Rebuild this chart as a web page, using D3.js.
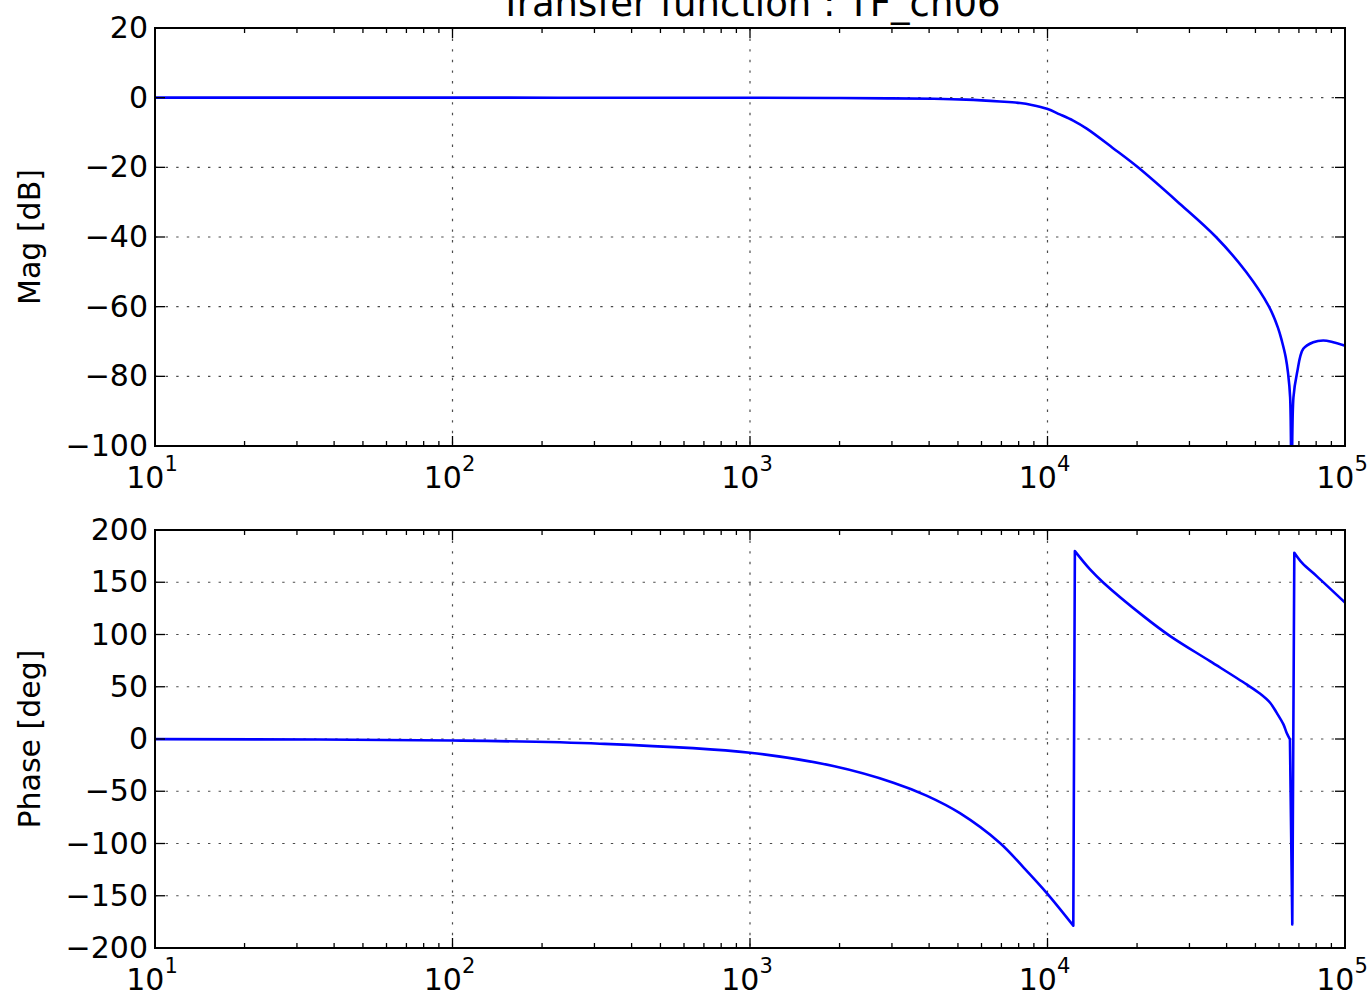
<!DOCTYPE html>
<html>
<head>
<meta charset="utf-8">
<script src="https://cdn.jsdelivr.net/npm/d3@7"></script>
<style>
  html, body { margin: 0; padding: 0; background: #fff; }
  svg { display: block; }
  text { font-family: "DejaVu Sans", sans-serif; fill: #000; }
</style>
</head>
<body>
<svg id="chart" width="1372" height="996"></svg>
<script>
// ---------- data ----------
const titleText = "Transfer function : TF_ch06";
const magLabel = "Mag [dB]";
const phaseLabel = "Phase [deg]";

const xDomain = [10, 100000];
const xMajorTicks = [10, 100, 1000, 10000, 100000];
const xTickExponents = ["1", "2", "3", "4", "5"];

const magDomain = [-100, 20];
const magTicks = [-100, -80, -60, -40, -20, 0, 20];
const phaseDomain = [-200, 200];
const phaseTicks = [-200, -150, -100, -50, 0, 50, 100, 150, 200];

const magFreq = [10, 100, 1000, 2000, 3000, 4140, 5325, 6920, 8085, 8850, 9960, 11000, 12200, 13550, 16610, 20140, 27460, 36850, 46480, 55530, 59500, 61410, 63200, 64340, 65400, 66200, 67100, 69000, 72400, 78220, 84510, 91240, 100000];
const magDb   = [0, 0, -0.03, -0.1, -0.2, -0.3, -0.55, -1.1, -1.55, -2.1, -3.2, -4.8, -6.6, -8.9, -14.5, -20, -30, -40, -50, -60, -66, -70, -74.5, -79, -86, -125, -86, -79, -72.1, -70.2, -69.7, -70.2, -71.2];

const phaseFreq = [10, 100, 313, 1000, 1905, 3033, 3920, 5077, 6920, 8300, 9930, 12210, 12360, 13900, 15420, 21010, 25840, 35160, 46720, 51760, 56010, 58900, 62100, 63640, 65300, 66500, 67550, 72000, 80300, 100000];
const phaseDeg  = [-0.1, -1.4, -4.5, -13.1, -25.9, -41.8, -54.2, -71, -99.5, -122.8, -147.2, -178.6, 179.8, 162.3, 149.6, 117.6, 98.5, 74.5, 52.2, 43.5, 34.7, 25.2, 14, 6, -0.4, -177.4, 178.3, 168, 155.9, 130.6];

// ---------- layout ----------
const L = 155, R = 1345;
const panels = [
  { top: 28, bottom: 446, domain: magDomain, ticks: magTicks, label: magLabel, xs: magFreq, ys: magDb, id: "mag" },
  { top: 530, bottom: 948, domain: phaseDomain, ticks: phaseTicks, label: phaseLabel, xs: phaseFreq, ys: phaseDeg, id: "phase" }
];
const FS = 30, SUPFS = 21, TITLEFS = 37;
const MAJOR = 10, MINOR = 5;
const JUMP = 150; // a change larger than this between samples is drawn as a straight wrap

const svg = d3.select("#chart");
const x = d3.scaleLog().domain(xDomain).range([L, R]);

// minor ticks on log axis
const minorTicks = [];
for (let d = 10; d < 100000; d *= 10) for (let k = 2; k <= 9; k++) minorTicks.push(d * k);

panels.forEach(p => {
  const y = d3.scaleLinear().domain(p.domain).range([p.bottom, p.top]);
  const g = svg.append("g");

  // clip
  svg.append("clipPath").attr("id", "clip-" + p.id)
    .append("rect").attr("x", L).attr("y", p.top).attr("width", R - L).attr("height", p.bottom - p.top);

  // grid
  const grid = g.append("g").attr("stroke", "#000").attr("stroke-width", 1.2)
    .attr("stroke-dasharray", "2.4,8.2").attr("opacity", 0.7);
  grid.selectAll("line.v").data(xMajorTicks).join("line")
    .attr("x1", d => x(d)).attr("x2", d => x(d)).attr("y1", p.top).attr("y2", p.bottom);
  grid.selectAll("line.h").data(p.ticks).join("line")
    .attr("x1", L).attr("x2", R).attr("y1", d => y(d)).attr("y2", d => y(d));

  // data line: smooth runs, straight segments across wraps
  const pts = p.xs.map((f, i) => [f, p.ys[i]]);
  const runs = [[pts[0]]];
  for (let i = 1; i < pts.length; i++) {
    if (Math.abs(pts[i][1] - pts[i - 1][1]) > JUMP) runs.push([pts[i]]);
    else runs[runs.length - 1].push(pts[i]);
  }
  const smooth = d3.line().curve(d3.curveCatmullRom.alpha(0.5)).x(d => x(d[0])).y(d => y(d[1]));
  let dStr = "";
  runs.forEach((run, k) => {
    let s = run.length > 1 ? smooth(run) : `M${x(run[0][0])},${y(run[0][1])}`;
    if (k > 0) s = "L" + s.slice(1);
    dStr += s;
  });
  g.append("path")
    .attr("clip-path", "url(#clip-" + p.id + ")")
    .attr("fill", "none").attr("stroke", "#0000ff").attr("stroke-width", 2.6)
    .attr("stroke-linejoin", "round")
    .attr("d", dStr);

  // ticks (inward, all sides)
  const tk = g.append("g").attr("stroke", "#000").attr("stroke-width", 1.3);
  xMajorTicks.forEach(v => {
    tk.append("line").attr("x1", x(v)).attr("x2", x(v)).attr("y1", p.bottom).attr("y2", p.bottom - MAJOR);
    tk.append("line").attr("x1", x(v)).attr("x2", x(v)).attr("y1", p.top).attr("y2", p.top + MAJOR);
  });
  minorTicks.forEach(v => {
    tk.append("line").attr("x1", x(v)).attr("x2", x(v)).attr("y1", p.bottom).attr("y2", p.bottom - MINOR);
    tk.append("line").attr("x1", x(v)).attr("x2", x(v)).attr("y1", p.top).attr("y2", p.top + MINOR);
  });
  p.ticks.forEach(v => {
    tk.append("line").attr("x1", L).attr("x2", L + MAJOR).attr("y1", y(v)).attr("y2", y(v));
    tk.append("line").attr("x1", R).attr("x2", R - MAJOR).attr("y1", y(v)).attr("y2", y(v));
  });

  // frame
  g.append("rect").attr("x", L).attr("y", p.top).attr("width", R - L).attr("height", p.bottom - p.top)
    .attr("fill", "none").attr("stroke", "#000").attr("stroke-width", 2);

  // y tick labels
  g.append("g").selectAll("text").data(p.ticks).join("text")
    .attr("x", L - 7).attr("y", d => y(d) + 10)
    .attr("text-anchor", "end").attr("font-size", FS)
    .text(d => d < 0 ? "\u2212" + Math.abs(d) : String(d));

  // x tick labels 10^n
  xMajorTicks.forEach((v, i) => {
    const t = g.append("text").attr("x", x(v) - 3).attr("y", p.bottom + 42)
      .attr("text-anchor", "middle").attr("font-size", FS);
    t.append("tspan").text("10");
    t.append("tspan").attr("font-size", SUPFS).attr("dy", -17).text(xTickExponents[i]);
  });

  // y label
  const cy = (p.top + p.bottom) / 2;
  g.append("text").attr("transform", `translate(40,${cy}) rotate(-90)`)
    .attr("text-anchor", "middle").attr("font-size", FS).text(p.label);
});

// title
svg.append("text").attr("x", (L + R) / 2).attr("y", 16)
  .attr("text-anchor", "middle").attr("font-size", TITLEFS).text(titleText);
</script>
</body>
</html>
